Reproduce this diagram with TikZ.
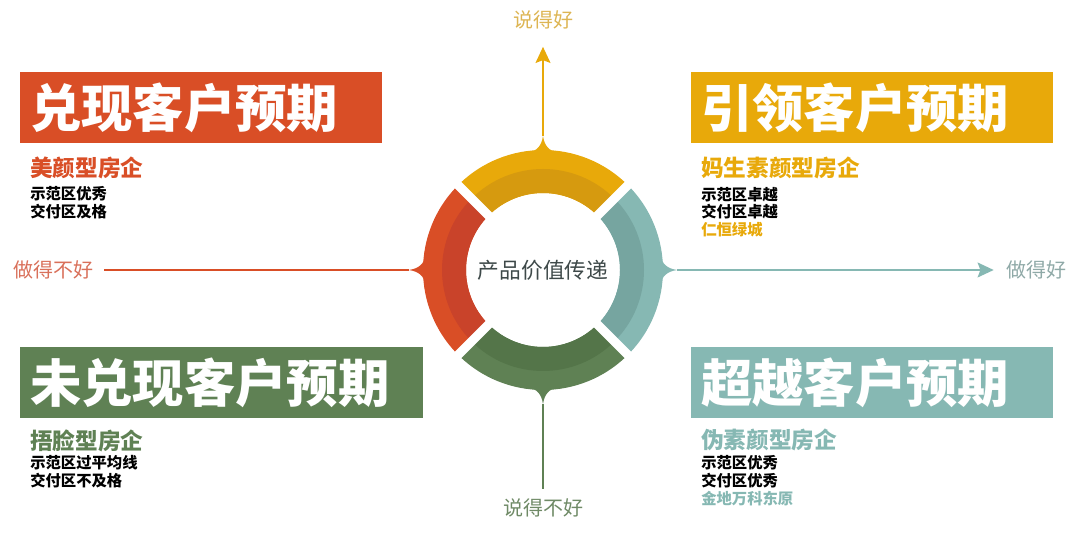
\documentclass[tikz,border=0pt]{standalone}
\usepackage{fontspec}
\setmainfont{Noto Sans CJK SC}
\newfontfamily\heavyfont{Noto Sans CJK SC Black}
\usetikzlibrary{
	positioning,
	arrows.meta
}
\definecolor{fulfilred}{HTML}{D94E26}
\definecolor{fulfilreddk}{HTML}{C9432A}
\definecolor{leadgold}{HTML}{E8A90A}
\definecolor{leadgolddk}{HTML}{D69A0F}
\definecolor{missgreen}{HTML}{5F8154}
\definecolor{missgreendk}{HTML}{547549}
\definecolor{beyondteal}{HTML}{86B8B3}
\definecolor{beyondtealdk}{HTML}{76A5A0}
\definecolor{hubtext}{HTML}{3E4949}
\definecolor{dobadtext}{HTML}{D9705A}
\definecolor{dogoodtext}{HTML}{8FA9A7}
\definecolor{saygoodtext}{HTML}{DDB553}
\definecolor{saybadtext}{HTML}{6F8A66}
\tikzset{
	quadbox/.style={
		anchor=north west, inner xsep=7.5pt, inner ysep=0pt,
		minimum height=53.25pt, align=left, text=white,
		font=\heavyfont\fontsize{38.5}{40}\selectfont
	},
	kind/.style={
		anchor=west, inner sep=0pt,
		font=\bfseries\fontsize{17}{18}\selectfont
	},
	detail/.style={
		anchor=west, inner sep=0pt,
		font=\bfseries\fontsize{11.5}{12}\selectfont
	},
	axislabel/.style={
		inner sep=0pt, font=\fontsize{15}{16}\selectfont
	},
	axisline/.style={
		line width=2pt
	},
	axisarrow/.style={
		axisline, -{Stealth[length=12pt,width=11pt,inset=2pt]}
	},
	gapline/.style={
		white, line width=6.75pt
	}
}

\begin{document}
\begin{tikzpicture}[x=0.75pt,y=0.75pt]
	\useasboundingbox (0,0) rectangle (1078,535);

	% ring
	\begin{scope}[shift={(543,265)}]
		\foreach \ang/\col/\dcol in {90/leadgold/leadgolddk,180/fulfilred/fulfilreddk,270/missgreen/missgreendk,0/beyondteal/beyondtealdk}{
			\fill[\col] (\ang-45:120) arc[start angle=\ang-45,end angle=\ang+45,radius=120]
				-- (\ang+45:77) arc[start angle=\ang+45,end angle=\ang-45,radius=77] -- cycle;
			\fill[\dcol] (\ang-45:101) arc[start angle=\ang-45,end angle=\ang+45,radius=101]
				-- (\ang+45:77) arc[start angle=\ang+45,end angle=\ang-45,radius=77] -- cycle;
			\fill[\col,rotate=\ang-90] (-16,117) .. controls (-5,119) and (-1.5,125) .. (0,134)
				.. controls (1.5,125) and (5,119) .. (16,117) -- cycle;
		}
		\foreach \g in {45,135,225,315}
			\draw[gapline] (\g:60) -- (\g:140);

		\node[font=\fontsize{16.3}{17}\selectfont,text=hubtext] (hub) at (0,0) {产品价值传递};
		\coordinate (tipN) at (0,134);
		\coordinate (tipS) at (0,-134);
		\coordinate (tipW) at (-134,0);
		\coordinate (tipE) at (134,0);
	\end{scope}

	% axes
	\node[axislabel,text=saygoodtext] (saygood) at (543,515) {说得好};
	\node[axislabel,text=saybadtext]  (saybad)  at (543,27)  {说得不好};
	\node[axislabel,text=dobadtext]   (dobad)   at (53,265)  {做得不好};
	\node[axislabel,text=dogoodtext]  (dogood)  at (1036,265) {做得好};

	\draw[axisarrow,leadgold,shorten >=13pt]  (tipN) -- (saygood);
	\draw[axisline,missgreen,shorten >=7.5pt] (tipS) -- (saybad);
	\draw[axisline,fulfilred,shorten >=8pt]   (tipW) -- (dobad);
	\draw[axisarrow,beyondteal,shorten >=9pt] (tipE) -- (dogood);

	% quadrants
	\node[quadbox,fill=fulfilred,text width=256.5pt]  (fulfil) at (20,463)  {兑现客户预期};
	\node[quadbox,fill=leadgold,text width=256.5pt]   (lead)   at (691,463) {引领客户预期};
	\node[quadbox,fill=missgreen,text width=287.25pt] (miss)   at (20,188)  {未兑现客户预期};
	\node[quadbox,fill=beyondteal,text width=256.5pt] (beyond) at (691,188) {超越客户预期};

	\node[kind,text=fulfilred] (fulfilkind) at ([shift={(10,-24)}]fulfil.south west) {美颜型房企};
	\node[detail] (fulfilshow) at ([yshift=-19.5pt]fulfilkind.west) {示范区优秀};
	\node[detail] (fulfilhand) at ([yshift=-13.5pt]fulfilshow.west) {交付区及格};

	\node[kind,text=leadgold] (leadkind) at ([shift={(10,-24)}]lead.south west) {妈生素颜型房企};
	\node[detail] (leadshow) at ([yshift=-20pt]leadkind.west)   {示范区卓越};
	\node[detail] (leadhand) at ([yshift=-13pt]leadshow.west)   {交付区卓越};
	\node[detail,text=leadgold] (leadcase) at ([yshift=-13.5pt]leadhand.west) {仁恒绿城};

	\node[kind,text=missgreen] (misskind) at ([shift={(10,-22)}]miss.south west) {捂脸型房企};
	\node[detail] (missshow) at ([yshift=-16.5pt]misskind.west) {示范区过平均线};
	\node[detail] (misshand) at ([yshift=-13.5pt]missshow.west) {交付区不及格};

	\node[kind,text=beyondteal] (beyondkind) at ([shift={(10,-21)}]beyond.south west) {伪素颜型房企};
	\node[detail] (beyondshow) at ([yshift=-17.25pt]beyondkind.west) {示范区优秀};
	\node[detail] (beyondhand) at ([yshift=-13.5pt]beyondshow.west)  {交付区优秀};
	\node[detail,text=beyondteal] (beyondcase) at ([yshift=-13.5pt]beyondhand.west) {金地万科东原};
\end{tikzpicture}
\end{document}
